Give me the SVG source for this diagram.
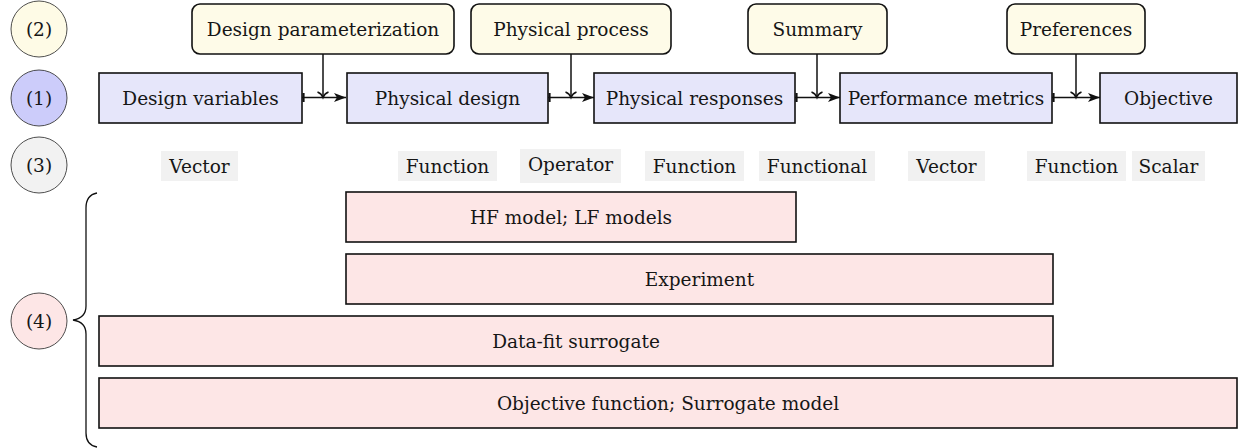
<svg xmlns="http://www.w3.org/2000/svg" width="1238" height="448" viewBox="0 0 1238 448">
<style>
text{font-family:'DejaVu Serif',serif;font-size:18.5px;fill:#161616;text-anchor:middle}
.blue{fill:#e6e6fa;stroke:#111;stroke-width:1.6}
.yel{fill:#fefbe8;stroke:#111;stroke-width:1.6}
.pink{fill:#fde6e6;stroke:#111;stroke-width:1.6}
.gray{fill:#f1f1f1;stroke:none}
.circ{stroke:#222;stroke-width:0.8}
.conn{fill:none;stroke:#111;stroke-width:1.5}
</style>
<defs>
<marker id="stealth" markerWidth="13" markerHeight="11" refX="12" refY="5.5" orient="auto" markerUnits="userSpaceOnUse">
<path d="M0,1 L12,5.5 L0,10 L3,5.5 Z" fill="#111"/>
</marker>
<marker id="bar" markerWidth="5" markerHeight="12" refX="0" refY="6" orient="auto" markerUnits="userSpaceOnUse">
<path d="M1.5,1.5 L1.5,10.5" stroke="#111" stroke-width="2.2" fill="none"/>
</marker>
</defs>

<g id="legend">
<circle class="circ" cx="39" cy="29" r="28" fill="#fefbe6"/><text x="39" y="35.5">(2)</text>
<circle class="circ" cx="39" cy="98" r="28" fill="#ccccfa"/><text x="39" y="104.5">(1)</text>
<circle class="circ" cx="39" cy="165" r="28" fill="#f2f2f2"/><text x="39" y="171.5">(3)</text>
<circle class="circ" cx="39" cy="321" r="28" fill="#fde6e6"/><text x="39" y="327.5">(4)</text>
<path d="M97,193 Q86,195 86,208 L86,306 Q86,318 73,320 Q86,322 86,334 L86,433 Q86,445 97,447" fill="none" stroke="#111" stroke-width="1.3"/>
</g>

<g id="n-design-variables"><rect class="blue" x="99" y="73" width="203" height="50"/><text x="200.5" y="104.5">Design variables</text></g>
<g id="n-physical-design"><rect class="blue" x="347" y="73" width="201" height="50"/><text x="447.5" y="104.5">Physical design</text></g>
<g id="n-physical-responses"><rect class="blue" x="594" y="73" width="201" height="50"/><text x="694.5" y="104.5">Physical responses</text></g>
<g id="n-performance-metrics"><rect class="blue" x="840" y="73" width="212" height="50"/><text x="946" y="104.5">Performance metrics</text></g>
<g id="n-objective"><rect class="blue" x="1100" y="73" width="137" height="50"/><text x="1168.5" y="104.5">Objective</text></g>

<g id="n-design-parameterization"><rect class="yel" x="192" y="4" width="262" height="50" rx="8"/><text x="323" y="35.5">Design parameterization</text></g>
<g id="n-physical-process"><rect class="yel" x="471" y="4" width="200" height="50" rx="8"/><text x="571" y="35.5">Physical process</text></g>
<g id="n-summary"><rect class="yel" x="748" y="4" width="139" height="50" rx="8"/><text x="817.5" y="35.5">Summary</text></g>
<g id="n-preferences"><rect class="yel" x="1007" y="4" width="138" height="50" rx="8"/><text x="1076" y="35.5">Preferences</text></g>

<g id="types">
<rect class="gray" x="161" y="151" width="77" height="30"/><text x="199.5" y="172.5">Vector</text>
<rect class="gray" x="398" y="151" width="99" height="30"/><text x="447.5" y="172.5">Function</text>
<rect class="gray" x="520" y="149" width="101" height="34"/><text x="570.5" y="171">Operator</text>
<rect class="gray" x="645" y="151" width="99" height="30"/><text x="694.5" y="172.5">Function</text>
<rect class="gray" x="759" y="151" width="116" height="30"/><text x="817" y="172.5">Functional</text>
<rect class="gray" x="908" y="151" width="77" height="30"/><text x="946.5" y="172.5">Vector</text>
<rect class="gray" x="1027" y="151" width="99" height="30"/><text x="1076.5" y="172.5">Function</text>
<rect class="gray" x="1132" y="151" width="73" height="30"/><text x="1168.5" y="172.5">Scalar</text>
</g>

<g id="n-hf-lf"><rect class="pink" x="346" y="192" width="450" height="50"/><text x="571" y="223.5">HF model; LF models</text></g>
<g id="n-experiment"><rect class="pink" x="346" y="254" width="707" height="50"/><text x="699.5" y="285.5">Experiment</text></g>
<g id="n-data-fit"><rect class="pink" x="99" y="316" width="954" height="50"/><text x="576" y="347.5">Data-fit surrogate</text></g>
<g id="n-objective-function"><rect class="pink" x="99" y="378" width="1138" height="50"/><text x="668" y="409.5">Objective function; Surrogate model</text></g>

<g id="connectors">
<path class="conn" d="M302,97.5 H346" marker-start="url(#bar)" marker-end="url(#stealth)"/>
<path class="conn" d="M548,97.5 H594" marker-start="url(#bar)" marker-end="url(#stealth)"/>
<path class="conn" d="M795,97.5 H840" marker-start="url(#bar)" marker-end="url(#stealth)"/>
<path class="conn" d="M1052,97.5 H1100" marker-start="url(#bar)" marker-end="url(#stealth)"/>
<path class="conn" d="M323,54 V97.5"/>
<path class="conn" d="M571,54 V97.5"/>
<path class="conn" d="M817,54 V97.5"/>
<path class="conn" d="M1076,54 V97.5"/>
<path class="conn" d="M317.5,92 Q321.5,93.5 323,97.5 Q324.5,93.5 328.5,92"/>
<path class="conn" d="M565.5,92 Q569.5,93.5 571,97.5 Q572.5,93.5 576.5,92"/>
<path class="conn" d="M811.5,92 Q815.5,93.5 817,97.5 Q818.5,93.5 822.5,92"/>
<path class="conn" d="M1070.5,92 Q1074.5,93.5 1076,97.5 Q1077.5,93.5 1081.5,92"/>
</g>
</svg>
